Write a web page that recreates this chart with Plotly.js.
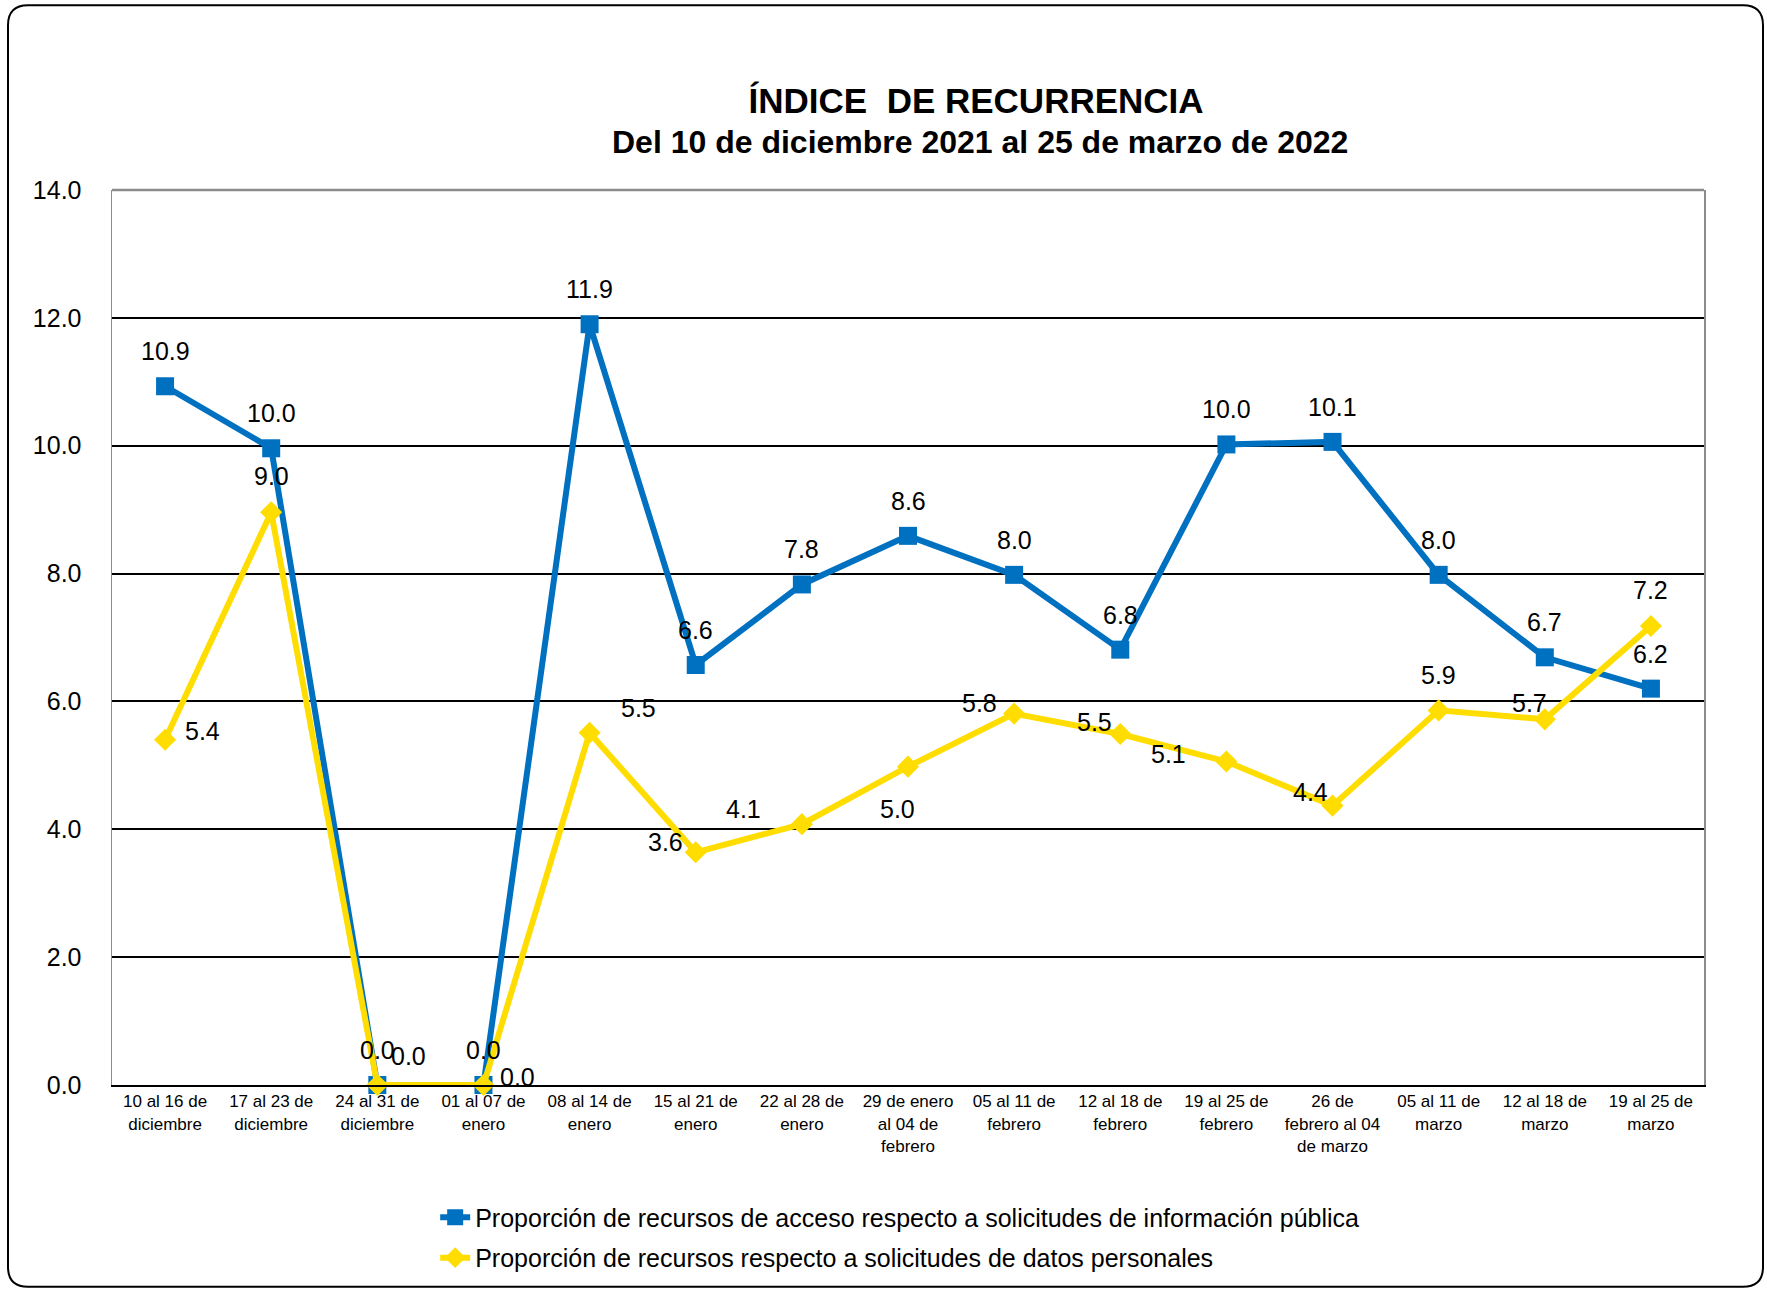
<!DOCTYPE html>
<html>
<head>
<meta charset="utf-8">
<script src="https://cdn.plot.ly/plotly-3.0.1.min.js"></script>
<style>
  html, body { margin: 0; padding: 0; background: #ffffff; }
  #chart { width: 1767px; height: 1291px; }
</style>
</head>
<body>
<div id="chart"></div>
<script>
// ---- Data ----
const categorias = [
  "10 al 16 de<br>diciembre",
  "17 al 23 de<br>diciembre",
  "24 al 31 de<br>diciembre",
  "01 al 07 de<br>enero",
  "08 al 14 de<br>enero",
  "15 al 21 de<br>enero",
  "22 al 28 de<br>enero",
  "29 de enero<br>al 04 de<br>febrero",
  "05 al 11 de<br>febrero",
  "12 al 18 de<br>febrero",
  "19 al 25 de<br>febrero",
  "26 de<br>febrero al 04<br>de marzo",
  "05 al 11 de<br>marzo",
  "12 al 18 de<br>marzo",
  "19 al 25 de<br>marzo"
];
const acceso = [10.93, 9.96, 0, 0, 11.9, 6.57, 7.83, 8.59, 7.98, 6.81, 10.02, 10.06, 7.98, 6.69, 6.2];
const datosPersonales = [5.4, 8.96, 0, 0, 5.51, 3.64, 4.08, 4.98, 5.81, 5.49, 5.06, 4.37, 5.86, 5.72, 7.18];
const nombreAcceso = "Proporción de recursos de acceso respecto a solicitudes de información pública";
const nombreDatos = "Proporción de recursos respecto a solicitudes de datos personales";
const yTicks = [0, 2, 4, 6, 8, 10, 12, 14];

// ---- Label placement (pixel shifts, style only) ----
const shiftAcceso = acceso.map(() => [0, 35]);
const shiftDatos = [[37, 9], [0, 36], [31, 29], [34, 8], [49, 25], [-30, 10], [-58, 15], [-11, -42],
                    [-35, 11], [-26, 12], [-58, 8], [-22, 14], [0, 35], [-15, 16], [0, 36]];

const FONT = "Arial, 'Liberation Sans', sans-serif";
const BLUE = "#0070C0";
const YELLOW = "#FFDD00";

const traces = [
  {
    x: categorias, y: acceso, name: nombreAcceso, type: "scatter", mode: "lines+markers",
    line: { color: BLUE, width: 6 },
    marker: { symbol: "square", size: 18, color: BLUE },
    cliponaxis: false, legendgroup: "a"
  },
  {
    x: categorias, y: datosPersonales, name: nombreDatos, type: "scatter", mode: "lines+markers",
    line: { color: YELLOW, width: 6 },
    marker: { symbol: "diamond", size: 17, color: YELLOW },
    cliponaxis: false, legendgroup: "b"
  }
];

const annotations = [];
function addLabels(vals, shifts) {
  vals.forEach((v, i) => {
    annotations.push({
      x: categorias[i], y: v, xref: "x", yref: "y",
      text: v.toFixed(1), showarrow: false,
      xshift: shifts[i][0], yshift: shifts[i][1],
      font: { family: FONT, size: 25, color: "#000000" }
    });
  });
}
addLabels(acceso, shiftAcceso);
addLabels(datosPersonales, shiftDatos);

annotations.push({
  xref: "paper", yref: "paper", x: 0.5452, y: 1.0536, xanchor: "center", yanchor: "middle",
  text: "<b>Del 10 de diciembre 2021 al 25 de marzo de 2022</b>", showarrow: false,
  font: { family: FONT, size: 32, color: "#000000" }
});

// Rounded outer frame in pixel terms converted to paper coords
const W = 1767, H = 1291, ML = 112, MR = 63, MT = 190, MB = 205;
const PW = W - ML - MR, PH = H - MT - MB;
function px(x) { return (x - ML) / PW; }
function py(y) { return (H - MB - y) / PH; }
const fx0 = 8, fx1 = 1763, fy0 = 5, fy1 = 1288, r = 20;
const framePath =
  `M ${px(fx0 + r)},${py(fy0)} L ${px(fx1 - r)},${py(fy0)} Q ${px(fx1)},${py(fy0)} ${px(fx1)},${py(fy0 + r)} ` +
  `L ${px(fx1)},${py(fy1 - r)} Q ${px(fx1)},${py(fy1)} ${px(fx1 - r)},${py(fy1)} ` +
  `L ${px(fx0 + r)},${py(fy1)} Q ${px(fx0)},${py(fy1)} ${px(fx0)},${py(fy1 - r)} ` +
  `L ${px(fx0)},${py(fy0 + r)} Q ${px(fx0)},${py(fy0)} ${px(fx0 + r)},${py(fy0)} Z`;

const layout = {
  width: W, height: H,
  margin: { l: ML, r: MR, t: MT, b: MB },
  paper_bgcolor: "#ffffff", plot_bgcolor: "#ffffff",
  font: { family: FONT, color: "#000000" },
  title: {
    text: "<b>ÍNDICE\u00A0 DE RECURRENCIA</b>",
    font: { family: FONT, size: 35, color: "#000000" },
    xref: "container", yref: "container", x: 0.5524, y: 0.9218, xanchor: "center", yanchor: "middle"
  },
  showlegend: true,
  legend: {
    orientation: "v", x: 0.203, xanchor: "left", y: -0.121, yanchor: "top",
    font: { family: FONT, size: 25, color: "#000000" },
    tracegroupgap: 5, bgcolor: "rgba(0,0,0,0)"
  },
  xaxis: {
    type: "category", range: [-0.5, 14.5],
    showgrid: false, zeroline: false,
    showline: true, linecolor: "#000000", linewidth: 2,
    ticks: "", tickfont: { family: FONT, size: 17, color: "#000000" },
    tickangle: 0, automargin: false
  },
  yaxis: {
    range: [0, 14], tickvals: yTicks, ticktext: yTicks.map(v => v.toFixed(1)),
    showgrid: true, gridcolor: "#000000", gridwidth: 2,
    zeroline: false,
    showline: true, linecolor: "#8c8c8c", linewidth: 1.5, mirror: true,
    ticks: "", ticklabelstandoff: 24,
    tickfont: { family: FONT, size: 25, color: "#000000" },
    automargin: false
  },
  shapes: [
    { type: "line", xref: "paper", yref: "paper", x0: 0, x1: 1, y0: 1, y1: 1,
      line: { color: "#8c8c8c", width: 2.5 }, layer: "above" },
    { type: "path", xref: "paper", yref: "paper", path: framePath,
      line: { color: "#000000", width: 2 }, fillcolor: "rgba(0,0,0,0)", layer: "below" }
  ],
  annotations: annotations,
  hovermode: false
};

Plotly.newPlot("chart", traces, layout, { staticPlot: true, displayModeBar: false });
</script>
</body>
</html>
